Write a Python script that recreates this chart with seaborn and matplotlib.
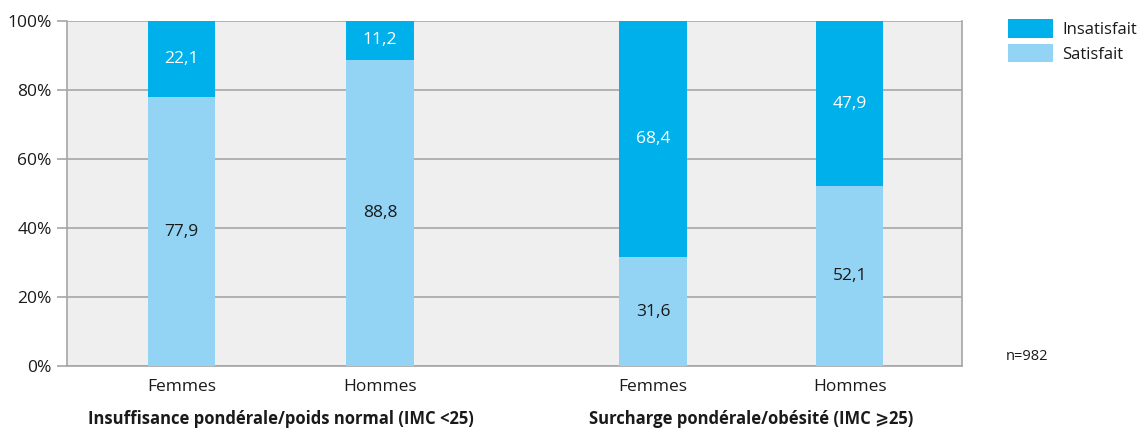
import matplotlib
matplotlib.use("Agg")
import matplotlib.pyplot as plt
import seaborn as sns
import pandas as pd

# Data
groups = ["Insuffisance pondérale/poids normal (IMC <25)",
          "Surcharge pondérale/obésité (IMC \u2a7e25)"]
sexes = ["Femmes", "Hommes", "Femmes", "Hommes"]
group_of_bar = [0, 0, 1, 1]
positions = [0.0, 1.0, 2.375, 3.365]
satisfait = [77.9, 88.8, 31.6, 52.1]
insatisfait = [22.1, 11.2, 68.4, 47.9]
y_ticks = [0, 20, 40, 60, 80, 100]
n_note = "n=982"

dark_blue = "#00b0ea"
light_blue = "#93d4f5"
grid_grey = "#a6a6a6"
text_col = "#1a1a1a"

sns.set_theme(style="white")
plt.rcParams["font.family"] = ["Open Sans", "DejaVu Sans"]

df = pd.DataFrame({
    "pos": positions,
    "sexe": sexes,
    "satisfait": satisfait,
    "insatisfait": insatisfait,
})
df["total"] = df["satisfait"] + df["insatisfait"]

fig = plt.figure(figsize=(11.43, 4.30), dpi=100)
ax = fig.add_axes([0.0586, 0.1488, 0.7830, 0.8024])
ax.set_facecolor("#efefef")

width = 0.34 / 0.99
# Full stack drawn in the "Insatisfait" colour, then "Satisfait" over its lower part
sns.barplot(data=df, x="pos", y="total", native_scale=True, width=width,
            color=dark_blue, saturation=1, errorbar=None, linewidth=0,
            ax=ax, zorder=3, label="Insatisfait")
sns.barplot(data=df, x="pos", y="satisfait", native_scale=True, width=width,
            color=light_blue, saturation=1, errorbar=None, linewidth=0,
            ax=ax, zorder=3, label="Satisfait")
handles, labels = ax.get_legend_handles_labels()
if ax.get_legend() is not None:
    ax.get_legend().remove()

# Value labels centred in each segment
for p, s, i in zip(positions, satisfait, insatisfait):
    ax.text(p, s / 2, f"{s:.1f}".replace(".", ","), ha="center", va="center",
            fontsize=12.5, color=text_col, zorder=4)
    ax.text(p, s + i / 2, f"{i:.1f}".replace(".", ","), ha="center", va="center",
            fontsize=12.5, color="white", zorder=4)

ax.set_xlim(-0.576, 3.93)
ax.set_ylim(0, 100)
ax.set_yticks(y_ticks)
ax.set_yticklabels([f"{t}%" for t in y_ticks], fontsize=12.5, color=text_col)
ax.set_xticks(positions)
ax.set_xticklabels(sexes, fontsize=12.5, color=text_col)
ax.tick_params(axis="x", length=0, pad=9)
ax.tick_params(axis="y", length=7, width=1.2, color=grid_grey, pad=4, left=True)
ax.set_xlabel("")
ax.set_ylabel("")
ax.yaxis.grid(True, color=grid_grey, linewidth=1.2, zorder=1)
ax.set_axisbelow(True)
for side in ["left", "right", "bottom", "top"]:
    ax.spines[side].set_visible(True)
    ax.spines[side].set_color(grid_grey)
    ax.spines[side].set_linewidth(1.2)
ax.spines["top"].set_visible(False)

# Group labels under each pair of bars
for g, label in enumerate(groups):
    xs = [p for p, gb in zip(positions, group_of_bar) if gb == g]
    ax.text(sum(xs) / len(xs), -15.5, label, ha="center", va="center",
            fontsize=12, fontweight="bold", color=text_col,
            transform=ax.transData, clip_on=False)

fig.text(1006 / 1143, 1 - 356 / 430, n_note, ha="left", va="center",
         fontsize=10.5, color=text_col)

leg = fig.legend(handles, labels, loc="upper left",
                 bbox_to_anchor=(1008 / 1143, 1 - 19 / 430),
                 frameon=False, fontsize=12, handlelength=2.7,
                 handleheight=1.35, handletextpad=0.55, labelspacing=0.35,
                 borderaxespad=0, borderpad=0)
for t in leg.get_texts():
    t.set_color(text_col)

fig.savefig("out.png", dpi=100)
